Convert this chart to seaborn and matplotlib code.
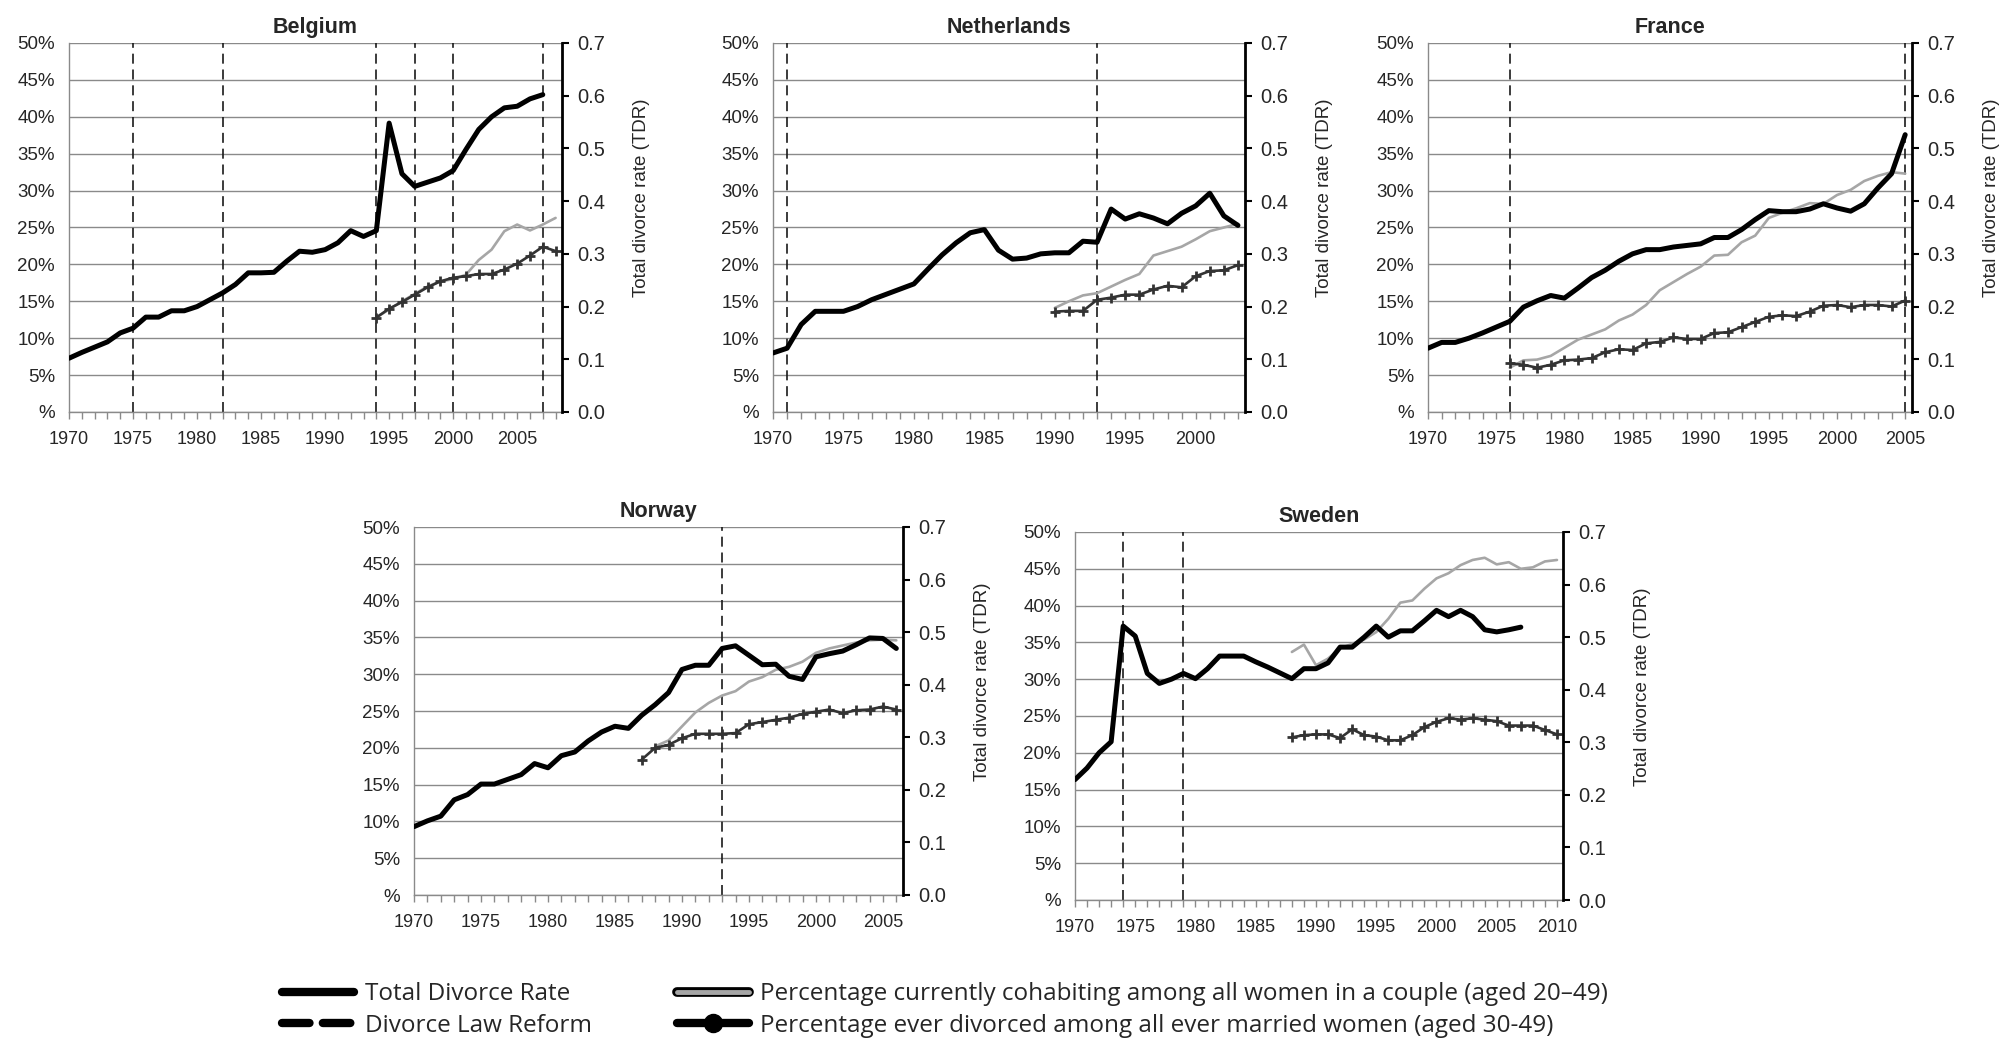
import matplotlib
matplotlib.use("Agg")
import matplotlib.pyplot as plt
import matplotlib.patheffects as pe
from matplotlib.lines import Line2D
from matplotlib.ticker import FixedLocator, MultipleLocator
import seaborn as sns

# ---- data ---------------------------------------------------------------
# Total divorce rate (TDR, right axis), one value per year from the start year
BE_TDR_START = 1970
BE_TDR = [0.102, 0.113, 0.123, 0.133, 0.150, 0.159, 0.180, 0.180, 0.192, 0.192,
          0.200, 0.213, 0.226, 0.242, 0.264, 0.264, 0.265, 0.286, 0.305, 0.303,
          0.308, 0.321, 0.344, 0.333, 0.344, 0.548, 0.452, 0.428, 0.436, 0.444,
          0.458, 0.498, 0.536, 0.560, 0.577, 0.580, 0.594, 0.602]
NL_TDR_START = 1970
NL_TDR = [0.112, 0.121, 0.166, 0.191, 0.191, 0.191, 0.200, 0.213, 0.223, 0.233,
          0.243, 0.271, 0.298, 0.321, 0.340, 0.346, 0.307, 0.290, 0.292, 0.300,
          0.302, 0.302, 0.324, 0.322, 0.385, 0.366, 0.376, 0.368, 0.357, 0.377,
          0.391, 0.415, 0.372, 0.354]
FR_TDR_START = 1970
FR_TDR = [0.121, 0.132, 0.132, 0.140, 0.150, 0.161, 0.172, 0.199, 0.211, 0.221,
          0.216, 0.235, 0.255, 0.269, 0.286, 0.300, 0.308, 0.308, 0.313, 0.316,
          0.319, 0.331, 0.331, 0.346, 0.365, 0.382, 0.380, 0.380, 0.385, 0.395,
          0.387, 0.381, 0.395, 0.425, 0.452, 0.526]
NO_TDR_START = 1970
NO_TDR = [0.130, 0.141, 0.150, 0.181, 0.191, 0.211, 0.211, 0.220, 0.229, 0.250,
          0.242, 0.265, 0.272, 0.293, 0.310, 0.321, 0.317, 0.342, 0.362, 0.385,
          0.429, 0.437, 0.437, 0.469, 0.474, 0.456, 0.438, 0.439, 0.416, 0.410,
          0.453, 0.459, 0.464, 0.476, 0.489, 0.488, 0.469]
SE_TDR_START = 1970
SE_TDR = [0.229, 0.251, 0.280, 0.301, 0.521, 0.502, 0.431, 0.412, 0.420, 0.431,
          0.421, 0.440, 0.464, 0.464, 0.464, 0.453, 0.443, 0.432, 0.421, 0.440,
          0.440, 0.451, 0.481, 0.481, 0.500, 0.521, 0.500, 0.512, 0.512, 0.531,
          0.551, 0.539, 0.551, 0.539, 0.514, 0.510, 0.514, 0.519]

# Percentage ever divorced among ever married women aged 30-49 (left axis)
BE_DIV_START = 1994
BE_DIV = [12.8, 14.0, 14.9, 15.9, 16.9, 17.7, 18.2, 18.4, 18.7, 18.7,
          19.3, 20.1, 21.2, 22.4, 21.8]
NL_DIV_START = 1990
NL_DIV = [13.6, 13.7, 13.7, 15.2, 15.5, 15.9, 15.9, 16.6, 17.1, 16.9,
          18.4, 19.1, 19.2, 19.9]
FR_DIV_START = 1976
FR_DIV = [6.6, 6.4, 6.0, 6.4, 7.0, 7.1, 7.3, 8.1, 8.5, 8.4,
          9.3, 9.5, 10.1, 9.9, 9.9, 10.7, 10.8, 11.5, 12.2, 12.9,
          13.1, 13.0, 13.6, 14.4, 14.5, 14.2, 14.5, 14.5, 14.3, 15.1]
NO_DIV_START = 1987
NO_DIV = [18.4, 20.0, 20.4, 21.3, 21.9, 21.9, 21.9, 22.0, 23.2, 23.5,
          23.8, 24.1, 24.6, 24.9, 25.2, 24.7, 25.1, 25.2, 25.6, 25.2]
SE_DIV_START = 1988
SE_DIV = [22.1, 22.4, 22.5, 22.5, 22.0, 23.2, 22.4, 22.2, 21.7, 21.7,
          22.4, 23.5, 24.2, 24.7, 24.5, 24.7, 24.5, 24.3, 23.7, 23.7,
          23.7, 23.1, 22.5]

# Percentage currently cohabiting among all women in a couple aged 20-49
BE_COH_START = 1994
BE_COH = [12.8, 13.9, 15.0, 16.0, 17.0, 17.7, 18.0, 18.6, 20.6, 22.0,
          24.5, 25.4, 24.6, 25.4, 26.3]
NL_COH_START = 1990
NL_COH = [14.1, 15.0, 15.8, 16.1, 17.0, 17.9, 18.7, 21.2, 21.8, 22.4,
          23.4, 24.5, 25.0, 25.5]
FR_COH_START = 1976
FR_COH = [6.0, 7.0, 7.1, 7.6, 8.7, 9.8, 10.5, 11.2, 12.4, 13.2,
          14.5, 16.5, 17.6, 18.7, 19.7, 21.2, 21.3, 23.0, 23.9, 26.3,
          27.0, 27.6, 28.3, 28.2, 29.4, 30.1, 31.3, 32.0, 32.5, 32.3]
NO_COH_START = 1988
NO_COH = [20.2, 21.0, 22.9, 24.8, 26.1, 27.1, 27.7, 29.0, 29.6, 30.6,
          31.0, 31.7, 32.9, 33.5, 33.9, 34.3, 34.6, 34.7, 34.6]
SE_COH_START = 1988
SE_COH = [33.7, 34.7, 31.9, 32.8, 34.2, 34.8, 35.4, 36.4, 38.2, 40.4,
          40.7, 42.3, 43.7, 44.4, 45.5, 46.2, 46.5, 45.6, 45.9, 45.0,
          45.2, 46.0, 46.2]

# Divorce law reforms (dashed verticals)
BE_REFORMS = [1975, 1982, 1994, 1997, 2000, 2007]
NL_REFORMS = [1971, 1993]
FR_REFORMS = [1976, 2005]
NO_REFORMS = [1993]
SE_REFORMS = [1974, 1979]

COUNTRIES = ["Belgium", "Netherlands", "France", "Norway", "Sweden"]
LAST_YEAR = [2008, 2003, 2005, 2006, 2010]
PCT_TICKS = [0, 5, 10, 15, 20, 25, 30, 35, 40, 45, 50]
PCT_LABELS = ["%", "5%", "10%", "15%", "20%", "25%", "30%", "35%", "40%", "45%", "50%"]
TDR_TICKS = [0.0, 0.1, 0.2, 0.3, 0.4, 0.5, 0.6, 0.7]

# ---- layout (pixels of the 2004x1040 canvas) ------------------------------
W, H = 2004, 1040
BOXES = {
    "Belgium": (69, 43, 562, 412),
    "Netherlands": (773, 43, 1245, 412),
    "France": (1428, 43, 1912, 412),
    "Norway": (414, 527, 903, 895),
    "Sweden": (1075, 532, 1563, 900),
}

GRID = "#8a8a8a"
TDR_COLOR = "#000000"
COH_COLOR = "#a6a6a6"
DIV_COLOR = "#333333"

sns.set_style("white")
plt.rcParams["font.family"] = ["Liberation Sans", "DejaVu Sans"]

fig = plt.figure(figsize=(W / 100, H / 100), dpi=100)


def years_from(start, values):
    return list(range(start, start + len(values)))


def draw_panel(name, last, tdr, div, coh, reforms):
    x0, y0, x1, y1 = BOXES[name]
    ax = fig.add_axes([x0 / W, 1 - y1 / H, (x1 - x0) / W, (y1 - y0) / H])
    ax.set_facecolor("none")

    # percentages on the left scale
    sns.lineplot(x=years_from(*coh), y=coh[1], ax=ax, color=COH_COLOR,
                 linewidth=1.9, zorder=3)
    sns.lineplot(x=years_from(*div), y=div[1], ax=ax, color=DIV_COLOR,
                 linewidth=1.9, marker="+", markersize=7, markeredgewidth=2.0,
                 markeredgecolor=DIV_COLOR, zorder=4)
    for yr in reforms:
        ax.axvline(yr, color="#1a1a1a", linewidth=1.2, linestyle=(0, (6, 3.5)),
                   zorder=2)

    ax.set_xlim(1970, last + 0.5)
    ax.set_ylim(0, 50)
    ax.yaxis.set_major_locator(FixedLocator(PCT_TICKS))
    ax.set_yticklabels(PCT_LABELS)
    ax.grid(axis="y", color=GRID, linewidth=1.0)
    ax.set_axisbelow(True)
    ax.xaxis.set_major_locator(MultipleLocator(5))
    ax.xaxis.set_minor_locator(MultipleLocator(1))
    ax.tick_params(axis="x", which="both", direction="out", length=5, width=1,
                   color=GRID, labelsize=13, pad=9, bottom=True)
    ax.tick_params(axis="y", length=0, labelsize=13.5, pad=10)
    for side in ["left", "bottom"]:
        ax.spines[side].set_color(GRID)
        ax.spines[side].set_linewidth(1.0)
    ax.spines["top"].set_visible(False)
    ax.spines["right"].set_visible(False)
    ax.set_xlabel("")
    ax.set_ylabel("")
    ax.set_title(name, fontsize=15.5, fontweight="bold", pad=7)

    # total divorce rate on the right scale
    ax2 = ax.twinx()
    sns.lineplot(x=years_from(*tdr), y=tdr[1], ax=ax2, color=TDR_COLOR,
                 linewidth=3.6, zorder=5)
    ax2.set_ylim(0, 0.7)
    ax2.yaxis.set_major_locator(FixedLocator(TDR_TICKS))
    ax2.set_yticklabels([f"{t:.1f}" for t in TDR_TICKS])
    ax2.tick_params(axis="y", direction="out", length=5, width=1.5,
                    color="black", labelsize=14.5, pad=6)
    for side in ["left", "top", "bottom"]:
        ax2.spines[side].set_visible(False)
    ax2.spines["right"].set_color("black")
    ax2.spines["right"].set_linewidth(2.0)
    ax2.set_ylabel("Total divorce rate (TDR)", fontsize=13.5)
    ax2.yaxis.set_label_coords(1 + 71 / (x1 - x0), 0.58)


PANELS = [
    ((BE_TDR_START, BE_TDR), (BE_DIV_START, BE_DIV), (BE_COH_START, BE_COH), BE_REFORMS),
    ((NL_TDR_START, NL_TDR), (NL_DIV_START, NL_DIV), (NL_COH_START, NL_COH), NL_REFORMS),
    ((FR_TDR_START, FR_TDR), (FR_DIV_START, FR_DIV), (FR_COH_START, FR_COH), FR_REFORMS),
    ((NO_TDR_START, NO_TDR), (NO_DIV_START, NO_DIV), (NO_COH_START, NO_COH), NO_REFORMS),
    ((SE_TDR_START, SE_TDR), (SE_DIV_START, SE_DIV), (SE_COH_START, SE_COH), SE_REFORMS),
]

for name, last, (tdr, div, coh, reforms) in zip(COUNTRIES, LAST_YEAR, PANELS):
    draw_panel(name, last, tdr, div, coh, reforms)

# ---- shared legend ---------------------------------------------------------
handles = [
    Line2D([], [], color="black", linewidth=6, solid_capstyle="round"),
    Line2D([], [], color="black", linewidth=6, linestyle=(0, (3.3, 1.6)),
           dash_capstyle="round"),
    Line2D([], [], color=COH_COLOR, linewidth=3.5, solid_capstyle="round",
           path_effects=[pe.Stroke(linewidth=7, foreground="black"), pe.Normal()]),
    Line2D([], [], color="black", linewidth=6, marker="o", markersize=13,
           solid_capstyle="round"),
]
labels = [
    "Total Divorce Rate",
    "Divorce Law Reform",
    "Percentage currently cohabiting among all women in a couple (aged 20\u201349)",
    "Percentage ever divorced among all ever married women (aged 30-49)",
]
fig.legend(handles, labels, ncol=2, loc="upper left",
           bbox_to_anchor=(270 / W, 1 - 970 / H), frameon=False,
           prop={"family": ["Open Sans", "DejaVu Sans"], "size": 17.5},
           handlelength=2.95, handletextpad=0.45, columnspacing=3.5,
           labelspacing=0.32, borderpad=0.0)

fig.savefig("out.png", dpi=100)
